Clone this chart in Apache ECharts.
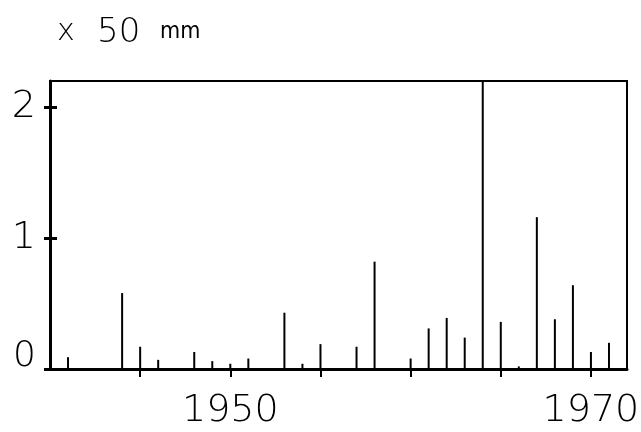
<!DOCTYPE html>
<html>
<head>
<meta charset="utf-8">
<script src="https://cdn.jsdelivr.net/npm/echarts@6/dist/echarts.min.js"></script>
<style>html,body{margin:0;padding:0;background:#fff}#c{width:641px;height:432px}</style>
</head>
<body>
<div id="c"></div>
<script>
var years = [1941,1944,1945,1946,1948,1949,1950,1951,1953,1954,1955,1957,1958,1960,1961,1962,1963,1964,1965,1966,1967,1968,1969,1970,1971];
var values = [0.09,0.58,0.17,0.07,0.13,0.06,0.04,0.08,0.43,0.04,0.19,0.17,0.82,0.08,0.31,0.39,0.24,2.2,0.36,0.02,1.16,0.38,0.64,0.13,0.2];
var xTicks = [1945,1950,1955,1960,1965,1970];
var xLabels = [1950,1970];
var yTicks = [0,1,2];
var unitLabel = ['x', '50', 'mm'];

var FONT = 'DejaVu Sans';
var chart = echarts.init(document.getElementById('c'), null, {renderer: 'canvas'});
var data = years.map(function (y, i) { return [y, values[i]]; });
chart.setOption({
  animation: false,
  backgroundColor: '#fff',
  grid: {left: 50, right: 14, top: 81, bottom: 63, outerBoundsMode: 'none', containLabel: false,
         show: true, borderColor: '#000', borderWidth: 2, backgroundColor: 'transparent'},
  graphic: [
    {type: 'text', x: 57, y: 17, style: {text: unitLabel[0], font: '300 30px "DejaVu Sans"', fill: '#000'}},
    {type: 'text', x: 97, y: 16, style: {text: unitLabel[1], font: '300 34px "DejaVu Sans"', fill: '#000'}},
    {type: 'text', x: 160, y: 21, style: {text: unitLabel[2], font: '300 23px "DejaVu Sans Condensed"', fill: '#000'}}
  ],
  xAxis: {
    type: 'value', min: 1940, max: 1972, interval: 5,
    splitLine: {show: false},
    axisLine: {lineStyle: {color: '#000', width: 3}},
    axisTick: {show: true, length: 8, lineStyle: {color: '#000', width: 2}, customValues: xTicks},
    axisLabel: {customValues: xLabels, color: '#000', fontFamily: FONT, fontWeight: 200, fontSize: 38, margin: 23,
      formatter: function (v) { return String(v); }}
  },
  yAxis: [{
    type: 'value', min: 0, max: 2.2, interval: 1,
    splitLine: {show: false},
    axisLine: {show: true, lineStyle: {color: '#000', width: 3}},
    axisTick: {show: true, length: 6, lineStyle: {color: '#000', width: 3}, customValues: yTicks},
    axisLabel: {
      customValues: yTicks, color: '#000', fontFamily: FONT, fontWeight: 200, fontSize: 38, margin: 14,
      formatter: function (v) { return v === 0 ? '{z|0}' : String(v); },
      rich: {z: {fontFamily: FONT, fontWeight: 200, fontSize: 36, padding: [0, 0, 24, 0], color: '#000'}}
    }
  }, {
    type: 'value', min: 0, max: 2.2, interval: 1, position: 'left',
    splitLine: {show: false},
    axisLine: {show: false},
    axisTick: {show: true, inside: true, length: 7, lineStyle: {color: '#000', width: 3}, customValues: [1, 2]},
    axisLabel: {show: false}
  }],
  series: [{
    type: 'bar', data: data, barWidth: 2, clip: true,
    itemStyle: {color: '#000'}
  }]
});
</script>
</body>
</html>
